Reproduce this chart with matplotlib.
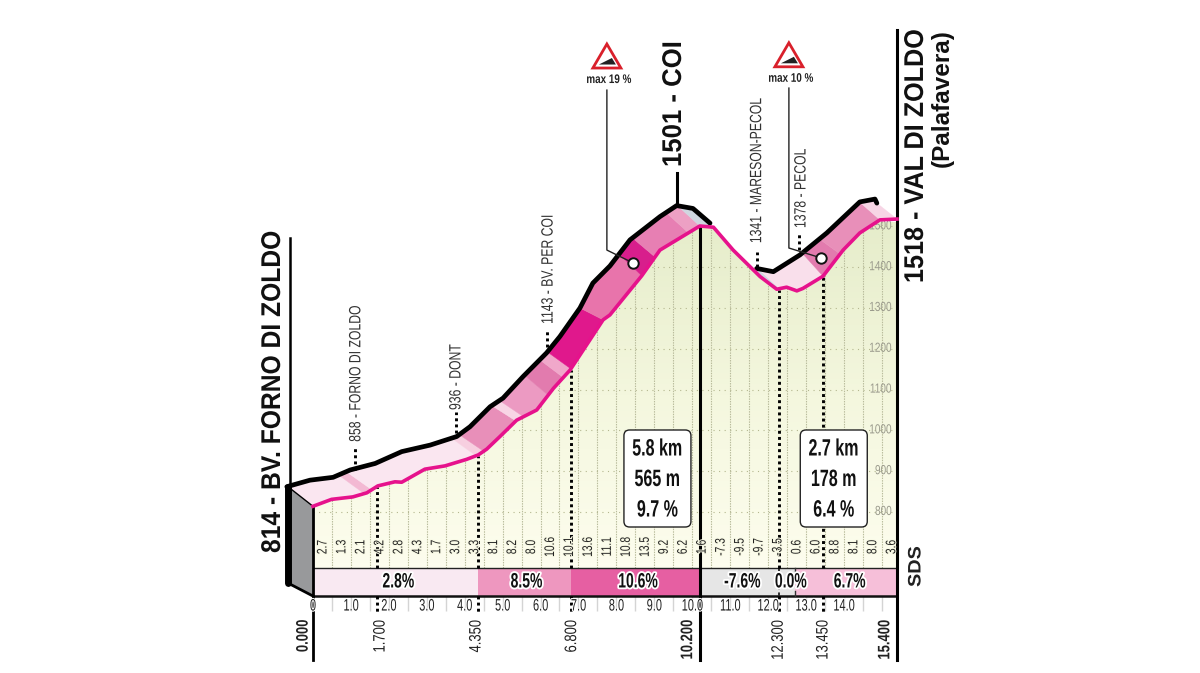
import numpy as np
import matplotlib
matplotlib.use("Agg")
import matplotlib.pyplot as plt
import matplotlib.patheffects as pe
from matplotlib.colors import LinearSegmentedColormap
from matplotlib.patches import Polygon, FancyBboxPatch
from matplotlib.transforms import Affine2D

# ---------- data (km, metres) ----------
road_km = [0, .49, 1.05, 1.42, 1.71, 2.16, 2.34, 2.95, 3.48, 4.05, 4.36, 4.58, 4.93, 5.37, 5.90, 6.34, 6.78,
           7.65, 7.83, 8.67, 9.15, 10.2, 10.56, 11.08, 11.79, 12.23, 12.49, 12.76, 12.92, 13.45, 13.98, 14.42, 14.95, 15.4]
road_alt = [814, 831, 837, 847, 864, 874, 873, 905, 913, 929, 940, 954, 985, 1025, 1050, 1103, 1148,
            1271, 1283, 1379, 1442, 1501, 1498, 1442, 1377, 1346, 1351, 1342, 1348, 1378, 1442, 1484, 1516, 1518]
edge1_km = [-.69, -.08, .53, .98, 1.64, 2.34, 3.09, 3.79, 4.14, 4.67, 5.01, 5.54, 6.16, 6.51, 7.04, 7.38, 7.83, 8.36, 9.15, 9.59, 10.02, 10.47]
edge1_alt = [862, 878, 885, 903, 919, 948, 964, 985, 1009, 1058, 1079, 1132, 1190, 1230, 1300, 1361, 1403, 1467, 1524, 1551, 1544, 1508]
edge2_km = [11.70, 12.14, 12.84, 13.55, 14.42, 14.82, 14.87]
edge2_alt = [1397, 1389, 1430, 1484, 1560, 1567, 1557]

band_edges = [0, 1.35, 1.55, 4.3, 4.5, 5.35, 5.55, 6.2, 6.6, 6.8, 7.65, 8.67, 9.02, 9.9, 10.2, 12.3, 13.45, 13.9, 14.95, 15.4]
band_colors = ['#fae6f0', '#f3b9d3', '#fae6f0', '#f7cfe0', '#e88fb9', '#f8d5e5', '#ec9ac2', '#e27bae', '#f0a8ca',
               '#e0188c', '#e874ab', '#d81e8c', '#e77fb3', '#eda0c4', '#cfd6e0', '#f9dfeb', '#e27bae', '#e88fb9', '#f7d5e5']

half_km_grades = ['2.7', '1.3', '2.1', '4.2', '2.8', '4.3', '1.7', '3.0', '3.3', '8.1', '8.2', '8.0', '10.6', '10.1', '13.6', '11.1',
                  '10.8', '13.5', '9.2', '6.2', '1.6', '-7.3', '-9.5', '-9.7', '-3.5', '0.6', '6.0', '8.8', '8.1', '8.0', '3.6']

sector_edges = [0, 4.35, 6.8, 10.2, 12.7, 15.4]
sector_colors = ['#f9e9f2', '#ee97bf', '#e65fa2', '#e6e6e6', '#f6bfd9']
sector_labels = ['2.8%', '8.5%', '10.6%', '-7.6%', '0.0%', '6.7%']
sector_label_km = [2.25, 5.63, 8.57, 11.32, 12.6, 14.15]

km_labels = [1, 2, 3, 4, 5, 6, 7, 8, 9, 10, 11, 12, 13, 14]
alt_labels = [800, 900, 1000, 1100, 1200, 1300, 1400, 1500]

split_txt = ['0.000', '1.700', '4.350', '6.800', '10.200', '12.300', '13.450', '15.400']
split_bold = [True, False, False, False, True, False, False, True]
split_txt_km = [-0.26, 1.77, 4.3, 6.82, 9.88, 12.27, 13.45, 15.08]

place_km = [1.11, 3.77, 6.17, 11.7, 12.82]
place_dot_low = [903, 994, 1204, 1400, 1442]
place_dot_high = [957, 1045, 1246, 1437, 1484]
place_label_alt = [972, 1050, 1261, 1459, 1496]
place_label_km = [1.13, 3.77, 6.2, 11.7, 12.87]
place_txt = ['858 - FORNO DI ZOLDO', '936 - DONT', '1143 - BV. PER COI', '1341 - MARESON-PECOL', '1378 - PECOL']

steep_km = [8.43, 13.39]
steep_alt = [1411, 1423]
elbow_alt = [1442, 1447]
leader_top_alt = [1834, 1839]
steep_txt = ['max 19 %', 'max 10 %']
sign_km = [7.75, 12.55]
sign_alt_top = [1947, 1950]

boxes_left = [8.2, 12.85]
boxes_txt = [['5.8 km', '565 m', '9.7 %'], ['2.7 km', '178 m', '6.4 %']]

# ---------- scale: 37.92 px per km, 0.408 px per metre ----------
W, H = 1200, 673
PX_KM, PX_M = 37.92, 0.408
X0, Y800 = 313.0, 512.0
fig = plt.figure(figsize=(W / 100, H / 100), dpi=100)
ax = fig.add_axes([0, 0, 1, 1])
ax.set_xlim(-X0 / PX_KM, (W - X0) / PX_KM)
ax.set_ylim(800 - (H - Y800) / PX_M, 800 + Y800 / PX_M)
ax.axis('off')
dkm = 1 / PX_KM
dm = 1 / PX_M
py = lambda p: 800 + (Y800 - p) / PX_M

FONT = ['Liberation Sans']


class Squeeze(pe.AbstractPathEffect):
    """Condense real text along its baseline (no condensed face is installed)."""

    def __init__(self, sx, anchor='center', halo=None):
        super().__init__()
        self.sx, self.anchor, self.halo = sx, anchor, halo

    def draw_path(self, renderer, gc, tpath, affine, rgbFace=None):
        ext = tpath.get_extents()
        c = {'left': 0.0, 'center': (ext.x0 + ext.x1) / 2, 'right': ext.x1}[self.anchor]
        a = Affine2D().translate(-c, 0).scale(self.sx, 1).translate(c, 0) + affine
        if self.halo:
            g = renderer.new_gc()
            g.copy_properties(gc)
            g.set_foreground(self.halo[1])
            g.set_linewidth(self.halo[0])
            renderer.draw_path(g, tpath, a, None)
            g.restore()
        renderer.draw_path(gc, tpath, a, rgbFace)


road = lambda k: np.interp(k, road_km, road_alt)
floor_alt, strip_low = 663, 594
axis_low = py(660)

# ---------- green area ----------
poly_k = np.r_[road_km, 15.4, 0]
poly_a = np.r_[road_alt, floor_alt, floor_alt]
area = Polygon(np.c_[poly_k, poly_a], closed=True, fc='none', ec='none', transform=ax.transData)
ax.add_patch(area)
cmap = LinearSegmentedColormap.from_list('g', ['#fdfdee', '#f4f7de', '#e6edcb'])
im = ax.imshow(np.linspace(1, 0, 64)[:, None], extent=[0, 15.4, floor_alt, 1510], aspect='auto', cmap=cmap,
               origin='upper', zorder=1)
ax.set_xlim(-X0 / PX_KM, (W - X0) / PX_KM)
ax.set_ylim(800 - (H - Y800) / PX_M, 800 + Y800 / PX_M)
im.set_clip_path(area)

for a in alt_labels:
    l, = ax.plot([0, 15.4], [a, a], color='#b4b78f', lw=0.8, ls=(0, (1, 4)), zorder=2)
    l.set_clip_path(area)
    ax.text(15.4 - 5 * dkm, a, str(a), ha='right', va='center', fontsize=9.5, family=FONT, color='#9a9a8c', zorder=2.5,
            path_effects=[Squeeze(0.76, 'right')])
grid_k = np.arange(0.5, 15.4, 0.5)
ax.vlines(grid_k, floor_alt, road(grid_k), color='#b9bc9c', lw=0.8, linestyles=(0, (1.3, 1)), zorder=2)
ax.vlines(grid_k, strip_low, strip_low - 15 * dm, color='#d4d4d4', lw=1, zorder=2)

# ---------- road band ----------
def edge(k):
    off = np.interp(k, [0, 15.4], [0.69, 0.53])
    t = k - off
    kk = np.r_[edge1_km, edge2_km]
    aa = np.r_[edge1_alt, edge2_alt]
    y = np.interp(t, kk, aa)
    hidden = (t > edge1_km[-1]) & (t < edge2_km[0])
    return t, np.where(hidden, road(t), y)


for a, b, c in zip(band_edges[:-1], band_edges[1:], band_colors):
    k = np.linspace(a, b, 30)
    t, y = edge(k)
    pts = np.r_[np.c_[k, road(k)], np.c_[t, y][::-1]]
    ax.add_patch(Polygon(pts, closed=True, fc=c, ec=c, lw=0.3, zorder=3))

# ---------- start block ----------
bx = -25 * dkm
ax.add_patch(Polygon([(bx, 862), (0, 814), (0, strip_low), (bx, strip_low + 13 * dm)], closed=True,
                     fc='#98999b', ec='none', zorder=3))
ax.plot([bx, bx], [862, strip_low + 13 * dm], color='black', lw=5, zorder=4, solid_capstyle='round')
ax.plot([bx, 0], [strip_low + 13 * dm, strip_low], color='black', lw=2, zorder=4)
ax.plot([bx, 0], [862, 814], color='black', lw=1, zorder=4)

# ---------- profile lines ----------
ax.plot(edge1_km, edge1_alt, color='black', lw=3.4, zorder=5, solid_capstyle='round', solid_joinstyle='round')
ax.plot(edge2_km, edge2_alt, color='black', lw=3.4, zorder=5, solid_capstyle='round', solid_joinstyle='round')
ax.plot(road_km, road_alt, color='#e6128c', lw=2.6, zorder=6, solid_joinstyle='round')

# ---------- bottom strip ----------
for a, b, c in zip(sector_edges[:-1], sector_edges[1:], sector_colors):
    ax.bar(a, floor_alt - strip_low, b - a, bottom=strip_low, align='edge', color=c, zorder=3)
ax.plot([0, 15.4], [floor_alt, floor_alt], color='#222222', lw=1, zorder=4)
ax.plot([0, 15.4], [strip_low, strip_low], color='#111111', lw=1.8, zorder=4)
ax.plot([12.7, 12.7], [strip_low, strip_low + 5 * dm], color='#333333', lw=1, zorder=4)
ax.plot([12.7, 12.7], [floor_alt, floor_alt - 4 * dm], color='#333333', lw=1, zorder=4)
for k, s in zip(sector_label_km, sector_labels):
    ax.text(k, (floor_alt + strip_low) / 2, s, ha='center', va='center', fontsize=15, family=FONT, weight='bold',
            color='#111111', zorder=8, path_effects=[Squeeze(0.67, 'center', (2.6, 'white'))])

for i, s in enumerate(half_km_grades):
    ax.text(0.25 + 0.5 * i, py(547), s, rotation=90, ha='center', va='center', fontsize=10, family=FONT,
            color='#222222', zorder=7, path_effects=[Squeeze(0.74, 'center', (1.4, '#f8f9e4'))])

tick_halo = Squeeze(0.66, 'center', (1.5, 'white'))
ax.text(0, strip_low - 10 * dm, '0', ha='center', va='center', fontsize=12, family=FONT, color='#222222', zorder=7,
        path_effects=[tick_halo])
for k in km_labels:
    ax.text(k, strip_low - 10 * dm, f'{k:.1f}', ha='center', va='center', fontsize=12, family=FONT, color='#222222', zorder=7,
            path_effects=[tick_halo])

# ---------- vertical rules ----------
ax.plot([0, 0], [814, axis_low], color='black', lw=2, zorder=5)
ax.plot([15.4, 15.4], [axis_low, py(30)], color='black', lw=2.2, zorder=5)
ax.plot([10.2, 10.2], [axis_low, road(10.2)], color='black', lw=2.2, zorder=5)
ax.plot([-23 * dkm, -23 * dkm], [862, py(238)], color='black', lw=1.8, zorder=5)
ax.plot([9.6, 9.6], [1551, py(173)], color='black', lw=2.2, zorder=5)

# ---------- dotted splits ----------
dot = dict(color='black', lw=2.1, ls=(0, (1, 1.1)), zorder=5)
for k in [1.7, 4.35, 6.8, 12.3, 13.45]:
    ax.plot([k, k], [floor_alt, road(k) - 3], **dot)
    ax.plot([k, k], [strip_low, strip_low - 17 * dm], **dot)
ax.plot([12.3, 12.3], [floor_alt, strip_low], color='black', lw=1.1, ls=(0, (2, 2)), zorder=5)

# ---------- split labels ----------
for k, s, b in zip(split_txt_km, split_txt, split_bold):
    ax.text(k, py(620), s, rotation=90, ha='center', va='top', fontsize=12, family=FONT,
            weight='bold' if b else 'normal', color='#222222', zorder=7, path_effects=[Squeeze(0.78, 'right')])

# ---------- place labels ----------
for k, lk, lo, hi, la, s in zip(place_km, place_label_km, place_dot_low, place_dot_high, place_label_alt, place_txt):
    ax.plot([k, k], [lo, hi], **dot)
    ax.text(lk, la, s, rotation=90, ha='center', va='bottom', fontsize=11.8, family=FONT, color='#333333', zorder=7,
            path_effects=[Squeeze(0.745, 'left')])

# ---------- climb boxes ----------
for left, lines in zip(boxes_left, boxes_txt):
    ax.add_patch(FancyBboxPatch((left, py(527)), 67 * dkm, 97 * dm,
                                boxstyle='round,pad=0,rounding_size=0.15', mutation_aspect=PX_KM / PX_M,
                                fc='white', ec='#222222', lw=1, zorder=7))
    for j, s in enumerate(lines):
        ax.text(left + 33.5 * dkm, py(449 + 30.5 * j), s, ha='center', va='center', fontsize=17,
                family=FONT, weight='bold', color='#111111', zorder=8, path_effects=[Squeeze(0.68)])

# ---------- steep signs ----------
for k, a, el, top, s, sk, sa in zip(steep_km, steep_alt, elbow_alt, leader_top_alt, steep_txt, sign_km, sign_alt_top):
    ax.plot([k, sk, sk], [a, el, top], color='#222222', lw=1, zorder=8)
    ax.plot([k], [a], 'o', ms=7.5, mfc='white', mec='#111111', mew=1.4, zorder=9)
    tri = [(sk, sa), (sk - 14 * dkm, sa - 24 * dm), (sk + 14 * dkm, sa - 24 * dm)]
    ax.add_patch(Polygon(tri, closed=True, fc='white', ec='#d9202b', lw=2, zorder=8, joinstyle='miter'))
    wedge = [(sk - 8 * dkm, sa - 20.5 * dm), (sk + 5 * dkm, sa - 14 * dm), (sk + 9 * dkm, sa - 20.5 * dm)]
    ax.add_patch(Polygon(wedge, closed=True, fc='#222222', ec='none', zorder=9))
    ax.text(sk + 2 * dkm, sa - 36 * dm, s, ha='center', va='center', fontsize=9, family=FONT, weight='bold',
            color='#222222', zorder=8, path_effects=[Squeeze(0.79)])

# ---------- large names ----------
big = dict(rotation=90, family=FONT, weight='bold', color='#111111', zorder=9)
ax.text(-40 * dkm, py(553), '814 - BV. FORNO DI ZOLDO', ha='center', va='bottom', fontsize=19.5,
        path_effects=[Squeeze(0.91, 'left')], **big)
ax.text(9.52, py(167), '1501 - COI', ha='center', va='bottom', fontsize=19.5,
        path_effects=[Squeeze(0.95, 'left')], **big)
ax.text(15.4 + 19 * dkm, py(283), '1518 - VAL DI ZOLDO', ha='center', va='bottom', fontsize=19.5,
        path_effects=[Squeeze(0.93, 'left')], **big)
ax.text(15.4 + 45 * dkm, py(167), '(Palafavera)', ha='center', va='bottom', fontsize=17.5, **big)
ax.text(15.4 + 19 * dkm, py(587), 'SDS', rotation=90, ha='center', va='bottom', fontsize=13,
        family=FONT, weight='bold', color='#222222', zorder=9, path_effects=[Squeeze(1.1, 'left')])

fig.savefig('out.png', dpi=100)
